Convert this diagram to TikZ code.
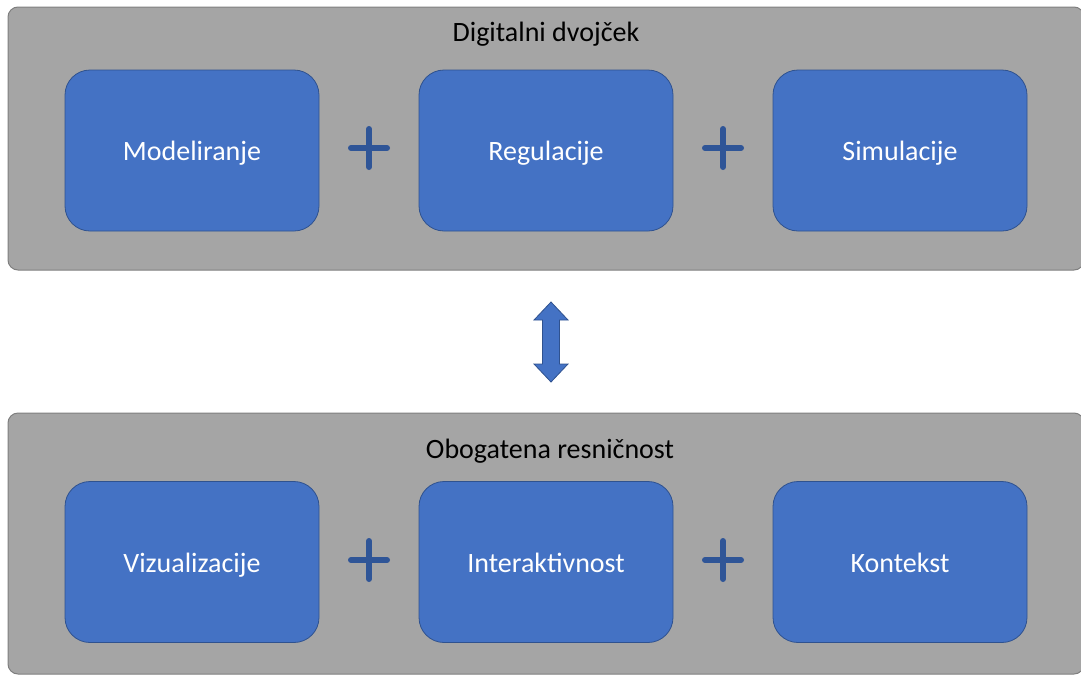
\documentclass[tikz,border=0pt]{standalone}
\usepackage{fontspec}
\setmainfont{Carlito}
\definecolor{panelfill}{HTML}{A5A5A5}
\definecolor{panelline}{HTML}{7F7F7F}
\definecolor{boxfill}{HTML}{4472C4}
\definecolor{boxline}{HTML}{2F528F}
\definecolor{plusblue}{HTML}{2F5597}
\tikzset{
  panel/.style={draw=panelline, line width=1pt, fill=panelfill, rounded corners=10pt},
  block/.style={draw=boxline, line width=0.8pt, fill=boxfill, rounded corners=25pt,
    minimum width=254pt, minimum height=161pt, inner sep=0pt, text=white,
    font=\fontsize{28}{32}\selectfont},
  title/.style={font=\fontsize{28}{32}\selectfont, text=black, inner sep=0pt},
  plussign/.style={draw=plusblue, line width=6pt, line cap=round},
  bigarrow/.style={draw=boxline, line width=0.8pt, fill=boxfill, line join=miter},
}
\begin{document}
\begin{tikzpicture}[x=1pt,y=-1pt]
\useasboundingbox (0,0) rectangle (1081,675);
\begin{scope}
\clip (0,0) rectangle (1081,675);
% two grey panels
\draw[panel] (8,7) rectangle (1084,270);
\draw[panel] (8,413) rectangle (1084,674);
\end{scope}
\node[title, anchor=base] (t1) at (546,41) {Digitalni dvojček};
\node[title, anchor=base] (t2) at (550,458) {Obogatena resničnost};
% top row
\node[block] (m) at (192,150.5) {};
\node[block] (r) at (546,150.5) {};
\node[block] (s) at (900,150.5) {};
% bottom row
\node[block] (v) at (192,562) {};
\node[block] (i) at (546,562) {};
\node[block] (k) at (900,562) {};
% block labels on a common baseline
\foreach \b/\t in {m/Modeliranje, r/Regulacije, s/Simulacije,
                   v/Vizualizacije, i/Interaktivnost, k/Kontekst}{
  \node[text=white, font=\fontsize{28}{32}\selectfont, anchor=base, inner sep=0pt]
    (\b-label) at ([yshift=-10pt]\b.center) {\t};
}
% plus signs between the blocks
\foreach \cx/\cy in {369/148, 723/148, 369/560, 723/560}{
  \draw[plussign] (\cx-18,\cy) -- (\cx+18,\cy);
  \draw[plussign] (\cx,\cy-19) -- (\cx,\cy+19);
}
% double arrow between the panels
\draw[bigarrow] (551,302) -- (568,320) -- (559.5,320) -- (559.5,364) -- (568,364)
  -- (551,382) -- (534,364) -- (542.5,364) -- (542.5,320) -- (534,320) -- cycle;
\end{tikzpicture}
\end{document}
